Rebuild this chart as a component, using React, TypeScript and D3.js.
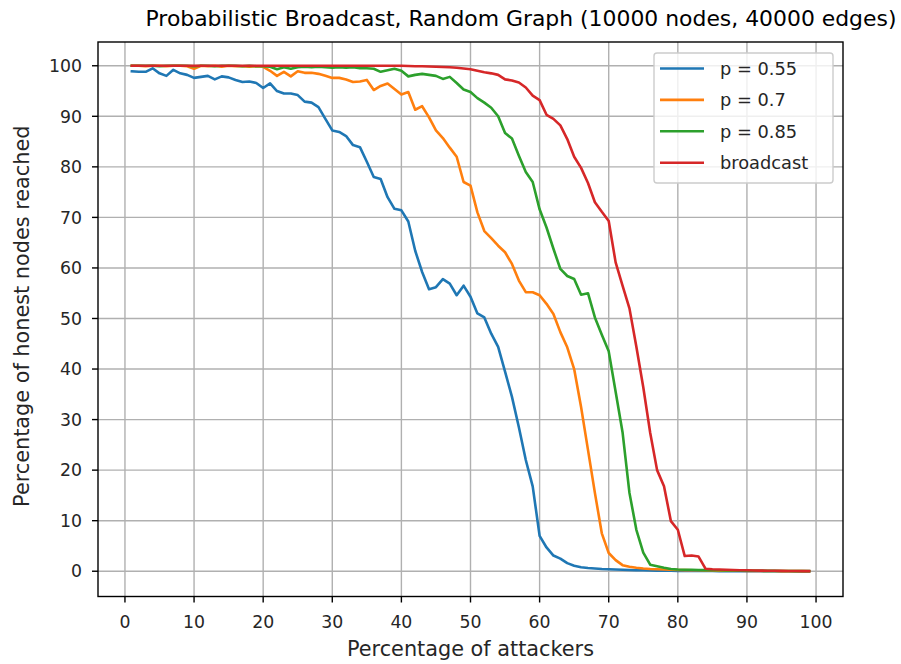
import React from "react";
import * as d3 from "d3";

const attackers: number[] = d3.range(1, 100);

const p055: number[] = [
  98.9, 98.8, 98.8, 99.5, 98.5, 98.0, 99.2, 98.5, 98.2, 97.6,
  97.8, 98.0, 97.3, 97.9, 97.7, 97.2, 96.8, 96.9, 96.6, 95.6,
  96.5, 95.0, 94.5, 94.5, 94.2, 92.9, 92.7, 91.8, 89.5, 87.2,
  86.9, 86.1, 84.3, 83.9, 81.0, 78.0, 77.6, 74.0, 71.7, 71.4,
  69.2, 63.4, 59.2, 55.8, 56.2, 57.8, 56.9, 54.6, 56.5, 54.3,
  51.0, 50.2, 47.0, 44.4, 39.5, 34.5, 28.5, 22.0, 16.8, 7.0,
  4.7, 3.1, 2.5, 1.6, 1.1, 0.8, 0.65, 0.55, 0.45, 0.4,
  0.35, 0.3, 0.25, 0.2, 0.18, 0.15, 0.12, 0.1, 0.08, 0.07,
  0.06, 0.05, 0.05, 0.04, 0.04, 0.03, 0.03, 0.03, 0.02, 0.02,
  0.02, 0.02, 0.01, 0.01, 0.01, 0.01, 0.01, 0, 0,
];

const p07: number[] = [
  100, 100, 99.9, 100, 100, 99.9, 100, 100, 99.9, 99.4,
  100, 99.9, 100, 99.8, 100, 99.9, 99.9, 99.8, 99.9, 99.8,
  99.0, 98.0, 98.8, 97.9, 98.9, 98.6, 98.6, 98.4, 98.0, 97.6,
  97.6, 97.3, 96.8, 96.9, 97.2, 95.2, 96.0, 96.5, 95.4, 94.3,
  94.8, 91.3, 92.0, 89.8, 87.2, 85.7, 83.8, 82.0, 77.0, 76.3,
  71.0, 67.3, 65.9, 64.4, 63.1, 60.8, 57.5, 55.2, 55.2, 54.6,
  52.9, 50.9, 47.3, 44.3, 40.0, 32.5, 24.0, 15.5, 7.5, 3.6,
  2.2, 1.2, 0.9, 0.7, 0.55, 0.45, 0.4, 0.35, 0.3, 0.25,
  0.22, 0.2, 0.18, 0.15, 0.13, 0.12, 0.1, 0.09, 0.08, 0.07,
  0.06, 0.05, 0.05, 0.04, 0.03, 0.03, 0.02, 0.02, 0.01,
];

const p085: number[] = [
  100, 100, 100, 100, 99.9, 100, 100, 100, 100, 99.9,
  100, 100, 99.9, 100, 100, 100, 99.9, 100, 99.9, 99.9,
  99.8, 99.3, 99.7, 99.4, 99.7, 99.8, 99.7, 99.8, 99.7, 99.6,
  99.7, 99.6, 99.7, 99.5, 99.5, 99.4, 98.8, 99.1, 99.4, 99.0,
  97.9, 98.2, 98.4, 98.2, 98.0, 97.4, 97.8, 96.6, 95.3, 94.8,
  93.6, 92.7, 91.7, 90.0, 86.7, 85.6, 82.2, 79.0, 77.0, 71.6,
  68.0, 63.8, 59.8, 58.4, 57.8, 54.7, 55.0, 50.2, 46.8, 43.5,
  35.5, 27.5, 15.5, 8.2, 3.7, 1.3, 1.0, 0.7, 0.45, 0.35,
  0.3, 0.28, 0.25, 0.22, 0.2, 0.18, 0.15, 0.13, 0.12, 0.1,
  0.09, 0.08, 0.07, 0.06, 0.05, 0.04, 0.03, 0.02, 0.02,
];

const broadcast: number[] = [
  100, 100, 100, 100, 100, 100, 100, 100, 100, 100,
  100, 100, 100, 100, 100, 100, 100, 100, 100, 100,
  100, 100, 100, 100, 100, 100, 100, 100, 100, 100,
  100, 100, 100, 100, 100, 100, 100, 100, 100, 100,
  99.95, 99.9, 99.9, 99.85, 99.8, 99.75, 99.7, 99.6, 99.45, 99.3,
  99.0, 98.7, 98.5, 98.2, 97.3, 97.1, 96.7, 95.7, 94.1, 93.2,
  90.3, 89.5, 88.2, 85.5, 82.0, 79.8, 76.8, 73.0, 71.1, 69.3,
  61.1, 56.5, 52.0, 44.4, 36.4, 27.4, 20.0, 16.8, 9.9, 8.2,
  3.0, 3.1, 2.9, 0.5, 0.4, 0.35, 0.3, 0.25, 0.2, 0.18,
  0.15, 0.12, 0.1, 0.08, 0.06, 0.05, 0.04, 0.03, 0.02,
];

const seriesNames: string[] = ["p = 0.55", "p = 0.7", "p = 0.85", "broadcast"];
const seriesColors: string[] = ["#1f77b4", "#ff7f0e", "#2ca02c", "#d62728"];
const seriesValues: number[][] = [p055, p07, p085, broadcast];

const xTicks: number[] = [0, 10, 20, 30, 40, 50, 60, 70, 80, 90, 100];
const yTicks: number[] = [0, 10, 20, 30, 40, 50, 60, 70, 80, 90, 100];

const titleText = "Probabilistic Broadcast, Random Graph (10000 nodes, 40000 edges)";
const xLabelText = "Percentage of attackers";
const yLabelText = "Percentage of honest nodes reached";

const W = 901;
const H = 664;
const L = 98, R = 843, T = 42, B = 596.5;
const FONT = "'DejaVu Sans', sans-serif";

export default function App() {
  const x = d3.scaleLinear().domain([-3.9, 103.9]).range([L, R]);
  const y = d3.scaleLinear().domain([-5, 104.7]).range([B, T]);
  const line = d3
    .line<[number, number]>()
    .x((d) => x(d[0]))
    .y((d) => y(d[1]));

  const legX = 654, legY = 53, legW = 179, legH = 130;
  const rowY = (i: number) => 68.5 + i * 31.4;

  return (
    <div style={{ position: "absolute", left: 0, top: 0 }}>
      <svg width={W} height={H} style={{ display: "block", background: "#fff" }}>
        <rect x={0} y={0} width={W} height={H} fill="#fff" />
        <text x={521} y={26} textAnchor="middle" fontFamily={FONT} fontSize={21.9} fill="#000">
          {titleText}
        </text>
        {/* grid */}
        {xTicks.map((t) => (
          <line key={"gx" + t} x1={x(t)} x2={x(t)} y1={T} y2={B} stroke="#b0b0b0" strokeWidth={1.4} />
        ))}
        {yTicks.map((t) => (
          <line key={"gy" + t} x1={L} x2={R} y1={y(t)} y2={y(t)} stroke="#b0b0b0" strokeWidth={1.4} />
        ))}
        <defs>
          <clipPath id="clip">
            <rect x={L} y={T} width={R - L} height={B - T} />
          </clipPath>
        </defs>
        {/* lines */}
        <g clipPath="url(#clip)">
          {seriesValues.map((vals, i) => (
            <path
              key={seriesNames[i]}
              d={line(attackers.map((a, j) => [a, vals[j]] as [number, number])) || ""}
              fill="none"
              stroke={seriesColors[i]}
              strokeWidth={2.6}
              strokeLinejoin="round"
              strokeLinecap="square"
            />
          ))}
        </g>
        {/* spines */}
        <rect x={L} y={T} width={R - L} height={B - T} fill="none" stroke="#000" strokeWidth={1.4} />
        {/* x ticks */}
        {xTicks.map((t) => (
          <g key={"xt" + t}>
            <line x1={x(t)} x2={x(t)} y1={B} y2={B + 6} stroke="#000" strokeWidth={1.4} />
            <text x={x(t)} y={628} textAnchor="middle" fontFamily={FONT} fontSize={17.3} fill="#262626">
              {t}
            </text>
          </g>
        ))}
        {/* y ticks */}
        {yTicks.map((t) => (
          <g key={"yt" + t}>
            <line x1={L - 6} x2={L} y1={y(t)} y2={y(t)} stroke="#000" strokeWidth={1.4} />
            <text x={82} y={y(t) + 6.2} textAnchor="end" fontFamily={FONT} fontSize={17.3} fill="#262626">
              {t}
            </text>
          </g>
        ))}
        <text x={(L + R) / 2} y={656} textAnchor="middle" fontFamily={FONT} fontSize={20.8} fill="#262626">
          {xLabelText}
        </text>
        <text
          transform={`translate(29, ${(T + B) / 2 - 3}) rotate(-90)`}
          textAnchor="middle"
          fontFamily={FONT}
          fontSize={20.8}
          fill="#262626"
        >
          {yLabelText}
        </text>
        {/* legend */}
        <rect x={legX} y={legY} width={legW} height={legH} rx={3} ry={3} fill="#fff" fillOpacity={0.8} stroke="#cccccc" strokeWidth={1.4} />
        {seriesNames.map((n, i) => (
          <g key={"lg" + n}>
            <line x1={660} x2={704} y1={rowY(i)} y2={rowY(i)} stroke={seriesColors[i]} strokeWidth={2.6} />
            <text x={720} y={rowY(i) + 6.4} fontFamily={FONT} fontSize={17.8} fill="#262626">
              {n}
            </text>
          </g>
        ))}
      </svg>
    </div>
  );
}
